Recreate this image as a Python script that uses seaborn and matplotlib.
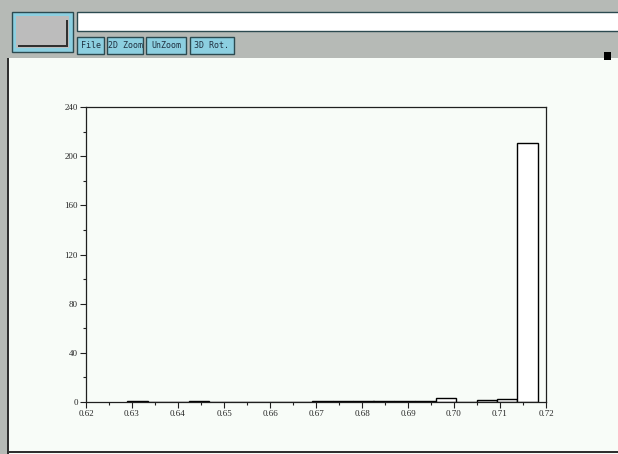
import matplotlib
matplotlib.use("Agg")
import matplotlib.pyplot as plt
from matplotlib.patches import Rectangle
import seaborn as sns

# histogram data (20 equal bins)
bin_edges = [0.6289, 0.6334, 0.6378, 0.6423, 0.6468, 0.6513, 0.6557, 0.6602,
             0.6647, 0.6691, 0.6736, 0.6781, 0.6825, 0.6870, 0.6915, 0.6960,
             0.7004, 0.7049, 0.7094, 0.7138, 0.7183]
bin_heights = [1, 0, 0, 1, 0, 0, 0, 0, 0, 1, 1, 1, 1, 1, 1, 3.5, 0, 1.5, 2.5, 211]
bin_centers = [(a + b) / 2 for a, b in zip(bin_edges[:-1], bin_edges[1:])]

x_ticks = [0.62, 0.63, 0.64, 0.65, 0.66, 0.67, 0.68, 0.69, 0.70, 0.71, 0.72]
x_minor = [0.625, 0.635, 0.645, 0.655, 0.665, 0.675, 0.685, 0.695, 0.705, 0.715]
y_ticks = [0, 40, 80, 120, 160, 200, 240]
y_minor = [20, 60, 100, 140, 180, 220]
buttons = ["File", "2D Zoom", "UnZoom", "3D Rot."]

W, H = 618, 454
sns.set_style("white")
fig = plt.figure(figsize=(W / 100, H / 100), dpi=100)
fig.patch.set_facecolor("#f8fcf8")


def px_rect(x0, y0, x1, y1, **kw):
    # rectangle given in pixel coords (origin top-left)
    r = Rectangle((x0 / W, 1 - y1 / H), (x1 - x0) / W, (y1 - y0) / H,
                  transform=fig.transFigure, **kw)
    fig.add_artist(r)
    return r


# window frame and toolbar
px_rect(0, 0, 618, 58, facecolor="#b6bab6", edgecolor="none")
px_rect(0, 0, 7, 454, facecolor="#b6bab6", edgecolor="none")
px_rect(7, 58, 8.5, 454, facecolor="#303030", edgecolor="none")
px_rect(7, 451, 618, 453, facecolor="#303030", edgecolor="none")
px_rect(12, 12, 73, 52, facecolor="#8ccfe0", edgecolor="#2c4a50", linewidth=1)
px_rect(16, 16, 69, 48, facecolor="#bcbcbc", edgecolor="none")
px_rect(18, 45, 68, 47, facecolor="#303030", edgecolor="none")
px_rect(66, 20, 68, 47, facecolor="#303030", edgecolor="none")
px_rect(77, 12, 620, 31, facecolor="white", edgecolor="#2c4a50", linewidth=1)

bx = [(77, 104), (107, 143), (146, 186), (190, 234)]
for (x0, x1), lab in zip(bx, buttons):
    px_rect(x0, 37, x1, 54, facecolor="#8ccfe0", edgecolor="#2c4a50", linewidth=1)
    fig.text((x0 + x1) / 2 / W, 1 - 45.5 / H, lab, ha="center", va="center",
             fontsize=6, family="DejaVu Sans Mono", color="#203040")
px_rect(604, 52, 611, 60, facecolor="black", edgecolor="none")

# histogram axes
ax = fig.add_axes([86 / W, 1 - 402 / H, 460 / W, 295 / H])
ax.set_facecolor("#f8fcf8")
sns.histplot(x=bin_centers, weights=bin_heights, bins=bin_edges, ax=ax,
             color="white", edgecolor="black", linewidth=1, alpha=1)
ax.set_xlim(0.62, 0.72)
ax.set_ylim(0, 240)
ax.set_xticks(x_ticks)
ax.set_xticks(x_minor, minor=True)
ax.set_xticklabels([f"{v:.2f}" for v in x_ticks])
ax.set_yticks(y_ticks)
ax.set_yticks(y_minor, minor=True)
ax.set_yticklabels([str(v) for v in y_ticks])
ax.set_xlabel("")
ax.set_ylabel("")
for s in ax.spines.values():
    s.set_color("#202020")
    s.set_linewidth(0.9)
ax.tick_params(which="both", bottom=True, left=True, top=False, right=False)
ax.tick_params(which="major", direction="out", length=4.5, width=0.8,
               labelsize=6.5, color="#202020", pad=1.5)
ax.tick_params(which="minor", direction="out", length=2.5, width=0.8,
               color="#202020")
for lab in ax.get_xticklabels() + ax.get_yticklabels():
    lab.set_family("Liberation Serif")

fig.savefig("out.png", dpi=100, facecolor=fig.get_facecolor())
